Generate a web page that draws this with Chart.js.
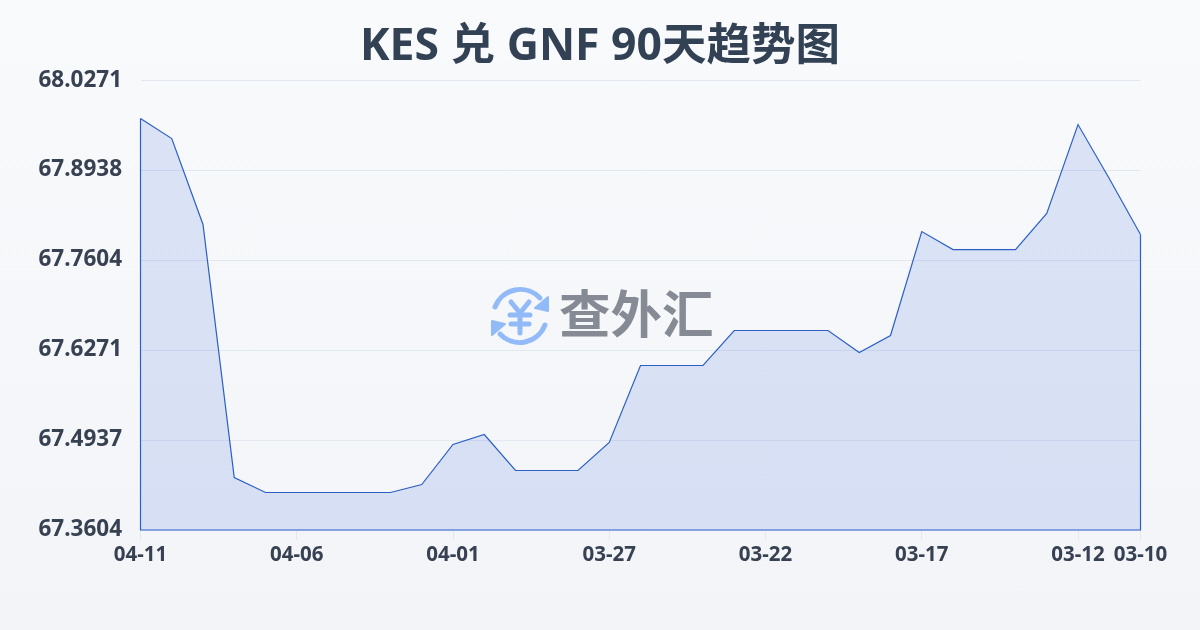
<!DOCTYPE html>
<html>
<head>
<meta charset="utf-8">
<title>KES 兑 GNF</title>
<script src="https://cdn.jsdelivr.net/npm/chart.js@4"></script>
<style>
  html, body { margin: 0; padding: 0; }
  body { width: 1200px; height: 630px; overflow: hidden; position: relative;
         background: linear-gradient(180deg, #f8fafc 0%, #f2f4f7 100%); }
  #myChart { position: absolute; left: 0; top: 0; }
  #logo { position: absolute; left: 488px; top: 284px; width: 64px; height: 64px; }
  #logoText { position: absolute; left: 559px; top: 275px; font: 700 51.5px/72px "Noto Sans CJK SC"; color: #858a94; white-space: nowrap; }
</style>
</head>
<body>
<canvas id="myChart" width="1200" height="630"></canvas>
<svg id="logo" viewBox="0 0 64 64" fill="none" stroke="#93baf8" stroke-width="5" stroke-linecap="round" stroke-linejoin="round">
  <path d="M7 23 A27 27 0 0 1 52 14"/>
  <path d="M57 41 A27 27 0 0 1 12 50"/>
  <path d="M60 13 L60 27 L47 24 Z" fill="#93baf8" stroke-width="2"/>
  <path d="M4 51 L4 37 L17 40 Z" fill="#93baf8" stroke-width="2"/>
  <path d="M23 18 L32 29 L41 18 M22 31 H42 M23 40 H41 M32 29 V49"/>
</svg>
<div id="logoText">查外汇</div>
<script>
const titleText = "KES 兑 GNF 90天趋势图";

const dates = [
    "04-11", "04-10", "04-09", "04-08", "04-07", "04-06", "04-05", "04-04", "04-03", "04-02", "04-01",
    "03-31", "03-30", "03-29", "03-28", "03-27", "03-26", "03-25", "03-24", "03-23", "03-22", "03-21",
    "03-20", "03-19", "03-18", "03-17", "03-16", "03-15", "03-14", "03-13", "03-12", "03-11", "03-10"
];

const rates = [
    67.9701, 67.9405, 67.8131, 67.4382, 67.4160, 67.4160, 67.4160, 67.4160, 67.4160, 67.4278, 67.4871,
    67.5019, 67.4486, 67.4486, 67.4486, 67.4901, 67.6042, 67.6042, 67.6042, 67.6560, 67.6560, 67.6560,
    67.6560, 67.6234, 67.6486, 67.8027, 67.7760, 67.7760, 67.7760, 67.8294, 67.9612, 67.8812, 67.7982
];

const yTicks = [68.0271, 67.8938, 67.7604, 67.6271, 67.4937, 67.3604];
const xTicks = ["04-11", "04-06", "04-01", "03-27", "03-22", "03-17", "03-12", "03-10"];

const lineColor = "#2b5fc7";
const fillColor = "rgba(29, 78, 216, 0.13)";

// the area outline goes down both sides and along the bottom as well
const closeOutline = {
    id: "closeOutline",
    afterDatasetsDraw(chart) {
        const pts = chart.getDatasetMeta(0).data;
        const base = chart.scales.y.getPixelForValue(yTicks[yTicks.length - 1]);
        const ctx = chart.ctx;
        ctx.save();
        ctx.strokeStyle = lineColor;
        ctx.lineWidth = 1.2;
        ctx.beginPath();
        ctx.moveTo(pts[pts.length - 1].x, pts[pts.length - 1].y);
        ctx.lineTo(pts[pts.length - 1].x, base);
        ctx.lineTo(pts[0].x, base);
        ctx.lineTo(pts[0].x, pts[0].y);
        ctx.stroke();
        ctx.restore();
    }
};

new Chart(document.getElementById("myChart"), {
    type: "line",
    plugins: [closeOutline],
    data: {
        labels: dates,
        datasets: [{
            data: rates,
            borderColor: lineColor,
            borderWidth: 1.2,
            backgroundColor: fillColor,
            fill: "start",
            tension: 0,
            pointRadius: 0
        }]
    },
    options: {
        responsive: false,
        animation: false,
        plugins: {
            legend: { display: false },
            tooltip: { enabled: false },
            title: {
                display: true,
                text: titleText,
                color: "#334155",
                font: { family: "'Noto Sans', 'Noto Sans CJK SC'", size: 44.5, weight: "700", lineHeight: 1.2 },
                padding: { top: 21, bottom: 5.7 }
            }
        },
        scales: {
            x: {
                offset: false,
                border: { display: false },
                grid: { drawOnChartArea: false, drawTicks: true, tickLength: 10, color: "#e2e8f0" },
                afterBuildTicks(scale) {
                    scale.ticks = xTicks.map(d => ({ value: dates.indexOf(d) }));
                },
                afterFit(scale) { scale.height = 100; },
                ticks: {
                    autoSkip: false,
                    maxRotation: 0,
                    padding: 3,
                    color: "#374151",
                    font: { family: "'Noto Sans'", size: 20.5, weight: "700" },
                    callback(value) { return dates[value]; }
                }
            },
            y: {
                min: yTicks[yTicks.length - 1],
                max: yTicks[0],
                border: { display: false },
                grid: { drawTicks: false, color: "#e2e8f0", lineWidth: 1 },
                afterBuildTicks(scale) {
                    scale.ticks = yTicks.map(v => ({ value: v }));
                },
                afterFit(scale) { scale.width = 140.5; },
                ticks: {
                    padding: 18.5,
                    color: "#374151",
                    font: { family: "'Noto Sans'", size: 22.5, weight: "700" },
                    callback(value) { return value.toFixed(4); }
                }
            },
            // empty right margin, kept as an axis so the title still centres on the page
            yRight: {
                position: "right",
                border: { display: false },
                grid: { display: false },
                ticks: { display: false },
                afterFit(scale) { scale.width = 59.5; }
            }
        }
    }
});
</script>
</body>
</html>
